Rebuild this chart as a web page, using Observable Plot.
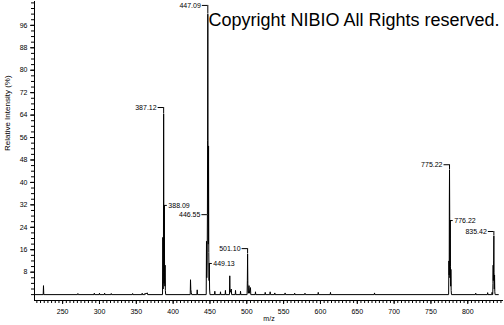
<!DOCTYPE html>
<html><head><meta charset="utf-8">
<script src="https://cdn.jsdelivr.net/npm/d3@7"></script>
<script src="https://cdn.jsdelivr.net/npm/@observablehq/plot@0.6"></script>
<style>html,body{margin:0;padding:0;background:#fff}#chart svg{display:block}</style>
</head><body><div id="chart"></div>
<script>
// spectrum profile (m/z, relative intensity %)
const spectrumMz = [
  212.5, 223.6, 224.0, 224.4,
  270.3, 270.7, 271.1, 292.6, 293.0, 293.4, 299.6, 300.0, 300.4, 306.6, 307.0, 307.4,
  315.6, 316.0, 316.4, 344.6, 345.0, 345.4, 357.6, 358.0, 358.4, 361.6, 362.0, 362.4, 365.0, 365.4,
  385.6, 386.0, 386.4, 386.8, 387.12, 387.45, 387.75, 388.09, 388.4, 388.8, 389.1, 389.45, 389.9,
  423.2, 423.6, 424.0, 424.6, 425.2, 432.3, 432.7, 433.1,
  444.9, 445.3, 445.7, 446.2, 446.55, 446.8, 447.09, 447.4, 447.75, 448.09, 448.4, 448.8, 449.13, 449.5, 450.0,
  456.2, 456.6, 457.0, 463.9, 464.3, 464.7, 470.6, 471.0, 471.4,
  476.5, 476.9, 477.3, 479.0, 479.4, 484.3, 484.7, 485.1, 491.1, 491.5, 491.9,
  500.4, 500.75, 501.10, 501.45, 501.9, 502.2, 502.6, 503.0, 503.4, 505.0, 505.4,
  511.4, 511.8, 512.2, 524.6, 525.0, 525.4, 531.3, 531.7, 532.1, 537.6, 538.0, 538.4,
  551.6, 552.0, 552.4, 564.6, 565.0, 565.4, 578.6, 579.0, 579.4, 596.6, 597.0, 597.4,
  613.2, 613.6, 614.0, 673.0, 673.4, 673.8,
  774.0, 774.4, 774.8, 775.0, 775.22, 775.5, 775.75, 776.0, 776.22, 776.5, 776.8, 777.1, 777.45, 777.9,
  810.4, 810.8, 811.2, 826.6, 827.0, 827.4, 832.6, 833.0, 833.4,
  833.9, 834.2, 834.45, 834.7, 835.1, 835.42, 835.7, 836.0, 836.35, 836.7, 837.1, 841.5
];
const spectrumIntensity = [
  0, 0, 3.2, 0,
  0, 0.4, 0, 0, 0.5, 0, 0, 0.5, 0, 0, 0.5, 0,
  0, 0.4, 0, 0, 0.4, 0, 0, 0.5, 0, 0, 0.5, 0.2, 0.6, 0,
  0, 20.4, 2, 8, 64.5, 18, 4, 31.8, 6, 3, 10.5, 1.5, 0,
  0, 5.3, 1.8, 0.8, 0, 0, 1.7, 0,
  0, 19, 6, 12, 28.5, 55, 100, 45, 18, 53, 15, 5, 11.1, 2, 0,
  0, 1.2, 0, 0, 1, 0, 0, 1.5, 0,
  0, 6.7, 0.8, 2, 0, 0, 1.5, 0, 0, 1.2, 0,
  0, 5, 14.5, 4, 0.8, 1, 0.5, 3.2, 0.5, 2.5, 0,
  0, 1, 0, 0, 0.8, 0, 0, 1, 0, 0, 0.6, 0,
  0, 0.6, 0, 0, 0.5, 0, 0, 0.5, 0, 0, 0.8, 0,
  0, 0.8, 0, 0, 0.6, 0,
  0, 12, 7, 33, 44.5, 28, 6, 20, 26.4, 10, 3, 9, 1.5, 0,
  0, 0.5, 0, 0, 0.7, 0, 0, 0.8, 0,
  0, 4, 10.5, 5, 12, 21, 8, 2, 7, 1, 0, 0
];

// annotated peaks
const peakLabels = ["387.12", "388.09", "446.55", "447.09", "449.13", "501.10", "775.22", "776.22", "835.42"];
const peakMz     = [387.12, 388.09, 446.55, 447.09, 449.13, 501.10, 775.22, 776.22, 835.42];
const peakApex   = [64.5, 31.8, 28.5, 100, 11.1, 14.5, 44.5, 26.4, 21];
const labelLevel = [66.7, 31.8, 28.5, 103.1, 11.1, 16.4, 46.3, 26.4, 22.5];
const labelSide  = ["bracket", "right", "left", "bracket", "right", "bracket", "bracket", "right", "bracket"];

const yMajorTicks = [8, 16, 24, 32, 40, 48, 56, 64, 72, 80, 88, 96];
const xMajorTicks = [250, 300, 350, 400, 450, 500, 550, 600, 650, 700, 750, 800];
const yMinorTicks = d3.range(0, 105, 2);
const xMinorTicks = d3.range(215, 850, 5);

const titleText = "Copyright NIBIO All Rights reserved.";
const yTitle = "Relative Intensity (%)";
const xTitle = "m/z";

const W = 504, H = 325, mL = 34, mR = 1, mT = 1, mB = 25;
const xDomain = [211.8, 848.5];
const yDomain = [-2.1, 104.5];
const u = (xDomain[1] - xDomain[0]) / (W - mL - mR); // data units per pixel

const spectrum = spectrumMz.map((m, i) => ({mz: m, y: spectrumIntensity[i]}));
const peaks = peakLabels.map((t, i) => ({text: t, mz: peakMz[i], apex: peakApex[i], level: labelLevel[i], side: labelSide[i]}));
const leftish = peaks.filter(d => d.side !== "right");
const rightish = peaks.filter(d => d.side === "right");
const brackets = peaks.filter(d => d.side === "bracket");

const plot = Plot.plot({
  width: W, height: H,
  marginLeft: mL, marginRight: mR, marginTop: mT, marginBottom: mB,
  style: {fontFamily: "'Liberation Sans', Arial, sans-serif", fontSize: "7px", color: "#000", background: "#fff"},
  x: {domain: xDomain},
  y: {domain: yDomain},
  marks: [
    Plot.ruleX([xDomain[0]], {y1: yDomain[0], y2: yDomain[1], stroke: "#000"}),
    Plot.ruleY([yDomain[0]], {x1: xDomain[0], x2: xDomain[1], stroke: "#000"}),
    Plot.axisY(yMinorTicks, {tickSize: 3, tickFormat: () => "", label: null, stroke: "#000"}),
    Plot.axisY(yMajorTicks, {tickSize: 4, tickPadding: 3, label: null, stroke: "#000", fill: "#000", fontSize: 7}),
    Plot.axisX(xMinorTicks, {tickSize: 3, tickFormat: () => "", label: null, stroke: "#000"}),
    Plot.axisX(xMajorTicks, {tickSize: 4, tickPadding: 5, label: null, stroke: "#000", fill: "#000", fontSize: 7}),
    Plot.line(spectrum, {x: "mz", y: "y", stroke: "#000", strokeWidth: 1}),
    // connectors
    Plot.ruleX(brackets, {x: "mz", y1: "level", y2: "apex", stroke: "#000", strokeWidth: 1}),
    Plot.ruleY(leftish, {y: "level", x1: d => d.mz - 5.5 * u, x2: "mz", stroke: "#000", strokeWidth: 1}),
    Plot.ruleY(rightish, {y: "level", x1: "mz", x2: d => d.mz + 3 * u, stroke: "#000", strokeWidth: 1}),
    Plot.text(leftish, {x: "mz", y: "level", text: "text", dx: -7, textAnchor: "end", fontSize: 7, fill: "#000"}),
    Plot.text(rightish, {x: "mz", y: "level", text: "text", dx: 4, textAnchor: "start", fontSize: 7, fill: "#000"}),
    // titles
    Plot.text([titleText], {text: d => d, frameAnchor: "top-left", dx: 174, dy: 12, textAnchor: "start", fontSize: 18, fill: "#000"}),
    Plot.text([yTitle], {text: d => d, frameAnchor: "left", rotate: -90, dx: -27, fontSize: 8, fill: "#000"}),
    Plot.text([xTitle], {text: d => d, frameAnchor: "bottom", dy: 20, fontSize: 7, fill: "#000"})
  ]
});
document.getElementById("chart").appendChild(plot);
</script>
</body></html>
